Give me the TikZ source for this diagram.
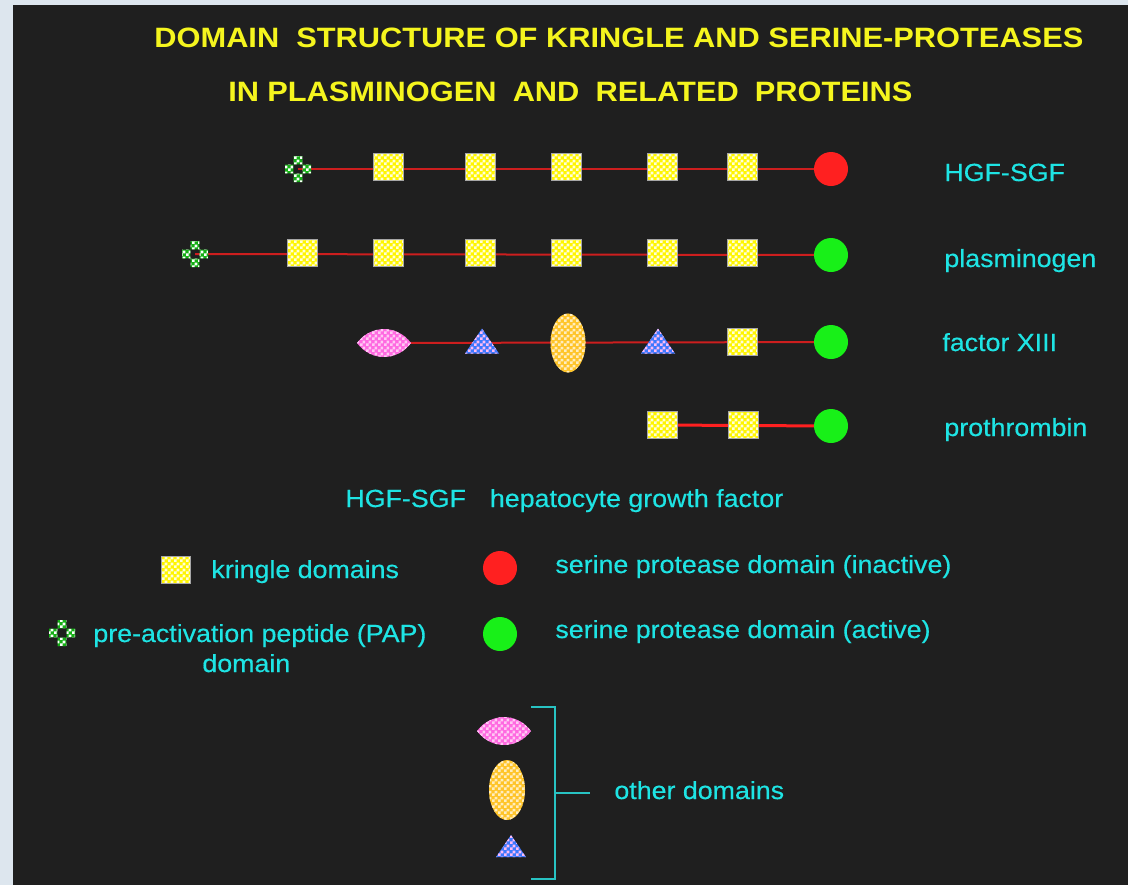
\documentclass[tikz,border=0pt]{standalone}
\usepackage{fontspec}
\setmainfont{Liberation Sans}[FakeStretch=1.08, FakeBold=0.4]
\newfontfamily\titlefont{Liberation Sans}[FakeStretch=1.1]
\usetikzlibrary{shapes,arrows,positioning,patterns,backgrounds}

\definecolor{bgblue}{RGB}{221,230,238}
\definecolor{panel}{RGB}{31,31,31}
\definecolor{titleyellow}{RGB}{245,245,30}
\definecolor{labelcyan}{RGB}{30,228,228}
\definecolor{chainred}{RGB}{205,30,30}
\definecolor{spred}{RGB}{255,32,32}
\definecolor{spgreen}{RGB}{24,240,24}
\definecolor{kyellow}{RGB}{255,245,0}
\definecolor{pinkdom}{RGB}{255,105,225}
\definecolor{orangedom}{RGB}{255,196,40}
\definecolor{bluedom}{RGB}{60,120,255}
\definecolor{papgreen}{RGB}{20,175,20}
\definecolor{bracketcyan}{RGB}{40,195,195}

% small checks, about 3px a cell
\pgfdeclarepatternformonly{finechecks}{\pgfpointorigin}{\pgfqpoint{3pt}{3pt}}{\pgfqpoint{3pt}{3pt}}{
    \pgfpathrectangle{\pgfpointorigin}{\pgfqpoint{1.5pt}{1.5pt}}
    \pgfpathrectangle{\pgfqpoint{1.5pt}{1.5pt}}{\pgfqpoint{1.5pt}{1.5pt}}
    \pgfusepath{fill}}

\begin{document}
\begin{tikzpicture}[x=0.5pt, y=-0.5pt,
    kringle/.style={rectangle, draw=gray!70, line width=0.4pt, minimum width=15pt, minimum height=13.5pt, inner sep=0,
        preaction={fill=kyellow}, pattern=finechecks, pattern color=white!85!kyellow},
    spin/.style={circle, minimum size=17pt, inner sep=0, fill=spred},
    spact/.style={circle, minimum size=17pt, inner sep=0, fill=spgreen},
    pap/.style={rectangle, minimum size=13pt, inner sep=0, path picture={
        \fill[preaction={fill=papgreen}, pattern=finechecks, pattern color=white, shift={(path picture bounding box.center)}]
            (-2.2pt,2.3pt) rectangle (2.2pt,6.5pt)
            (-6.5pt,-2.2pt) rectangle (-2.3pt,2.2pt)
            (2.3pt,-2.2pt) rectangle (6.5pt,2.2pt)
            (-2.2pt,-6.5pt) rectangle (2.2pt,-2.3pt);}},
    lens/.style={rectangle, minimum width=27pt, minimum height=18.6pt, inner sep=0, path picture={
        \fill[preaction={fill=pinkdom}, pattern=finechecks, pattern color=pinkdom!35!white]
            (path picture bounding box.west)
            .. controls ([xshift=7pt]path picture bounding box.north west) and ([xshift=-7pt]path picture bounding box.north east)
            .. (path picture bounding box.east)
            .. controls ([xshift=-7pt]path picture bounding box.south east) and ([xshift=7pt]path picture bounding box.south west)
            .. (path picture bounding box.west) -- cycle;}},
    oval/.style={ellipse, minimum width=17.5pt, minimum height=29.5pt, inner sep=0,
        preaction={fill=orangedom}, pattern=finechecks, pattern color=orangedom!30!white},
    tri/.style={rectangle, minimum width=17pt, minimum height=12.5pt, inner sep=0, path picture={
        \fill[preaction={fill=bluedom}, pattern=finechecks, pattern color=pinkdom!45!white]
            (path picture bounding box.south west) -- (path picture bounding box.south east)
            -- (path picture bounding box.north) -- cycle;}},
    chain/.style={chainred, line width=1pt},
    txt/.style={text=labelcyan, font=\fontsize{12.4}{15}\selectfont, inner sep=0, anchor=base west},
    ttl/.style={text=titleyellow, font=\titlefont\bfseries\fontsize{14}{17}\selectfont, inner sep=0, anchor=base west},
    bracket/.style={draw=bracketcyan, line width=1pt}]

    \useasboundingbox (0,0) rectangle (1128,885);

    % Title
    \node[ttl] (title1) at (154,47) {\makebox[464.5pt][s]{DOMAIN\ \ STRUCTURE OF KRINGLE AND SERINE-PROTEASES}};
    \node[ttl] (title2) at (228,101) {\makebox[342pt][s]{IN PLASMINOGEN\ \ AND\ \ RELATED\ \ PROTEINS}};

    % HGF-SGF
    \node[pap] (hgfpap) at (298,169) {};
    \node[kringle] (hgfka) at (388,167) {};
    \node[kringle] (hgfkb) at (480,167) {};
    \node[kringle] (hgfkc) at (566,167) {};
    \node[kringle] (hgfkd) at (662,167) {};
    \node[kringle] (hgfke) at (742,167) {};
    \node[spin] (hgfsp) at (831,169) {};
    \node[txt] (hgflabel) at (944,181) {HGF-SGF};

    % plasminogen
    \node[pap] (plgpap) at (195,254) {};
    \node[kringle] (plgka) at (302,253) {};
    \node[kringle] (plgkb) at (388,253) {};
    \node[kringle] (plgkc) at (480,253) {};
    \node[kringle] (plgkd) at (566,253) {};
    \node[kringle] (plgke) at (662,253) {};
    \node[kringle] (plgkf) at (742,253) {};
    \node[spact] (plgsp) at (831,255) {};
    \node[txt] (plglabel) at (944,267) {plasminogen};

    % factor XIII
    \node[lens] (fxlens) at (384,343) {};
    \node[tri] (fxtria) at (482,341) {};
    \node[oval] (fxoval) at (568,343) {};
    \node[tri] (fxtrib) at (658,341) {};
    \node[kringle] (fxka) at (742,342) {};
    \node[spact] (fxsp) at (831,342) {};
    \node[txt] (fxlabel) at (942,351) {factor XIII};

    % prothrombin
    \node[kringle] (ptka) at (662,425) {};
    \node[kringle] (ptkb) at (743,425) {};
    \node[spact] (ptsp) at (831,426) {};
    \node[txt] (ptlabel) at (944,436) {prothrombin};

    % Abbreviation
    \node[txt] (abbrev) at (345,507) {HGF-SGF\hspace{12pt}hepatocyte growth factor};

    % Legend
    \node[kringle, minimum width=14.5pt] (keyk) at (176,570) {};
    \node[txt] (keyktext) at (211,578) {kringle domains};
    \node[pap] (keypap) at (62,633) {};
    \node[txt] (keypaptext) at (93,642) {pre-activation peptide (PAP)};
    \node[txt] (keypaptext2) at (202,672) {domain};
    \node[spin] (keyred) at (500,568) {};
    \node[txt] (keyredtext) at (555,573) {serine protease domain (inactive)};
    \node[spact] (keygreen) at (500,634) {};
    \node[txt] (keygreentext) at (555,638) {serine protease domain (active)};

    % Other domains
    \node[lens] (otherlens) at (504,731) {};
    \node[oval, minimum width=18pt, minimum height=30pt] (otheroval) at (507,790) {};
    \node[tri, minimum width=15pt, minimum height=11pt] (othertri) at (511,846) {};
    \draw[bracket] (531,707) -| (555,879) -- (531,879);
    \coordinate (brkmid) at (555,793);
    \draw[bracket] (brkmid) -- ++(35,0);
    \node[txt] (othertext) at (614,799) {other domains};

    % Panel and chains
    \begin{scope}[on background layer]
        \fill[bgblue] (0,0) rectangle (1128,885);
        \fill[panel] (13,5) rectangle (1128,885);
        \draw[chain] (hgfpap.center) -- (hgfsp.center);
        \draw[chain] (plgpap.center) -- (plgsp.center);
        \draw[chain] (fxlens.center) -- (fxsp.center);
        \draw[chain, spred, line width=1.5pt] (ptka.center) -- (ptsp.center);
    \end{scope}
\end{tikzpicture}
\end{document}
